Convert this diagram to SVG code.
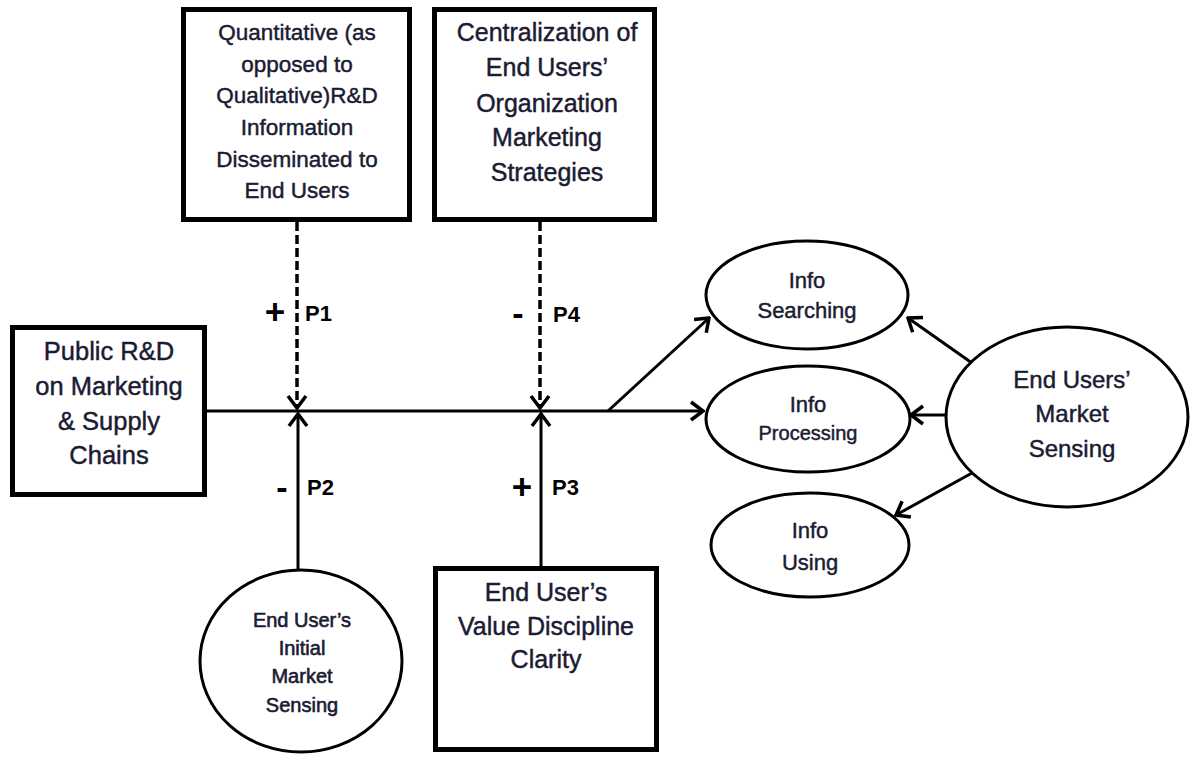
<svg xmlns="http://www.w3.org/2000/svg" width="1191" height="757" viewBox="0 0 1191 757">
<style>
.box{fill:#fff;stroke:#000;stroke-width:5}
.ell{fill:#fff;stroke:#000;stroke-width:3}
.t{font-family:"Liberation Sans",Arial,sans-serif;fill:#1b1b33;stroke:#1b1b33;stroke-width:0.45;text-anchor:middle}
.lbl{font-family:"Liberation Sans",Arial,sans-serif;fill:#000;font-weight:bold}
.ln{fill:none;stroke:#000;stroke-width:3}
.dash{stroke-width:3.5;stroke-dasharray:9 4}
</style>
<defs>
<marker id="arr" viewBox="-14 -12 16 24" refX="0" refY="0" markerWidth="16" markerHeight="24" orient="auto" markerUnits="userSpaceOnUse">
<path d="M-12,-9 L0,0 L-12,9" fill="none" stroke="#000" stroke-width="3.5" stroke-dasharray="none"/>
</marker>
</defs>
<rect width="1191" height="757" fill="#fff"/>

<g id="connectors">
<line class="ln" x1="207" y1="411" x2="703" y2="411" marker-end="url(#arr)"/>
<line class="ln" x1="608" y1="411" x2="709" y2="318" marker-end="url(#arr)"/>
<line class="ln dash" x1="297" y1="222" x2="297" y2="408" marker-end="url(#arr)"/>
<line class="ln dash" x1="540" y1="222" x2="540" y2="408" marker-end="url(#arr)"/>
<line class="ln" x1="298" y1="570" x2="298" y2="414" marker-end="url(#arr)"/>
<line class="ln" x1="541" y1="566" x2="541" y2="414" marker-end="url(#arr)"/>
<line class="ln" x1="972" y1="363" x2="908" y2="318" marker-end="url(#arr)"/>
<line class="ln" x1="945" y1="415" x2="911" y2="415" marker-end="url(#arr)"/>
<line class="ln" x1="972" y1="473" x2="896" y2="515" marker-end="url(#arr)"/>
<text class="lbl" x="275" y="324" font-size="35" text-anchor="middle">+</text>
<text class="lbl" x="305" y="321" font-size="22">P1</text>
<text class="lbl" x="518" y="325" font-size="34" text-anchor="middle">-</text>
<text class="lbl" x="553" y="322" font-size="22">P4</text>
<text class="lbl" x="282" y="499" font-size="34" text-anchor="middle">-</text>
<text class="lbl" x="307" y="495" font-size="22">P2</text>
<text class="lbl" x="522" y="499" font-size="35" text-anchor="middle">+</text>
<text class="lbl" x="552" y="495" font-size="22">P3</text>
</g>

<g id="n_quant">
<rect class="box" x="183.5" y="9.5" width="226" height="210"/>
<text class="t" font-size="22.5"><tspan x="297" y="40">Quantitative (as</tspan><tspan x="297" y="72">opposed to</tspan><tspan x="297" y="103">Qualitative)R&amp;D</tspan><tspan x="297" y="135">Information</tspan><tspan x="297" y="167">Disseminated to</tspan><tspan x="297" y="198">End Users</tspan></text>
</g>

<g id="n_central">
<rect class="box" x="434.5" y="9.5" width="220" height="210"/>
<text class="t" font-size="25"><tspan x="547" y="41">Centralization of</tspan><tspan x="547" y="76">End Users’</tspan><tspan x="547" y="112">Organization</tspan><tspan x="547" y="146">Marketing</tspan><tspan x="547" y="181">Strategies</tspan></text>
</g>

<g id="n_public">
<rect class="box" x="12.5" y="327.5" width="192" height="167"/>
<text class="t" font-size="25.5"><tspan x="109" y="360">Public R&amp;D</tspan><tspan x="109" y="395">on Marketing</tspan><tspan x="109" y="430">&amp; Supply</tspan><tspan x="109" y="464">Chains</tspan></text>
</g>

<g id="n_initial">
<ellipse class="ell" cx="301" cy="661" rx="101" ry="91"/>
<text class="t" font-size="20" style="stroke-width:0.6"><tspan x="302" y="627">End User’s</tspan><tspan x="302" y="655">Initial</tspan><tspan x="302" y="683">Market</tspan><tspan x="302" y="712">Sensing</tspan></text>
</g>

<g id="n_value">
<rect class="box" x="435.5" y="568.5" width="221" height="181"/>
<text class="t" font-size="25"><tspan x="546" y="601">End User’s</tspan><tspan x="546" y="635">Value Discipline</tspan><tspan x="546" y="668">Clarity</tspan></text>
</g>

<g id="n_search">
<ellipse class="ell" cx="807" cy="295" rx="101" ry="54"/>
<text class="t" font-size="22"><tspan x="807" y="288">Info</tspan><tspan x="807" y="318">Searching</tspan></text>
</g>

<g id="n_process">
<ellipse class="ell" cx="808" cy="419" rx="102" ry="53"/>
<text class="t"><tspan x="808" y="412" font-size="22">Info</tspan><tspan x="808" y="440" font-size="20">Processing</tspan></text>
</g>

<g id="n_using">
<ellipse class="ell" cx="810" cy="545" rx="99" ry="52"/>
<text class="t" font-size="22"><tspan x="810" y="538">Info</tspan><tspan x="810" y="570">Using</tspan></text>
</g>

<g id="n_sensing">
<ellipse class="ell" cx="1067" cy="417" rx="121" ry="90"/>
<text class="t" font-size="24"><tspan x="1072" y="388">End Users’</tspan><tspan x="1072" y="422">Market</tspan><tspan x="1072" y="457">Sensing</tspan></text>
</g>
</svg>
